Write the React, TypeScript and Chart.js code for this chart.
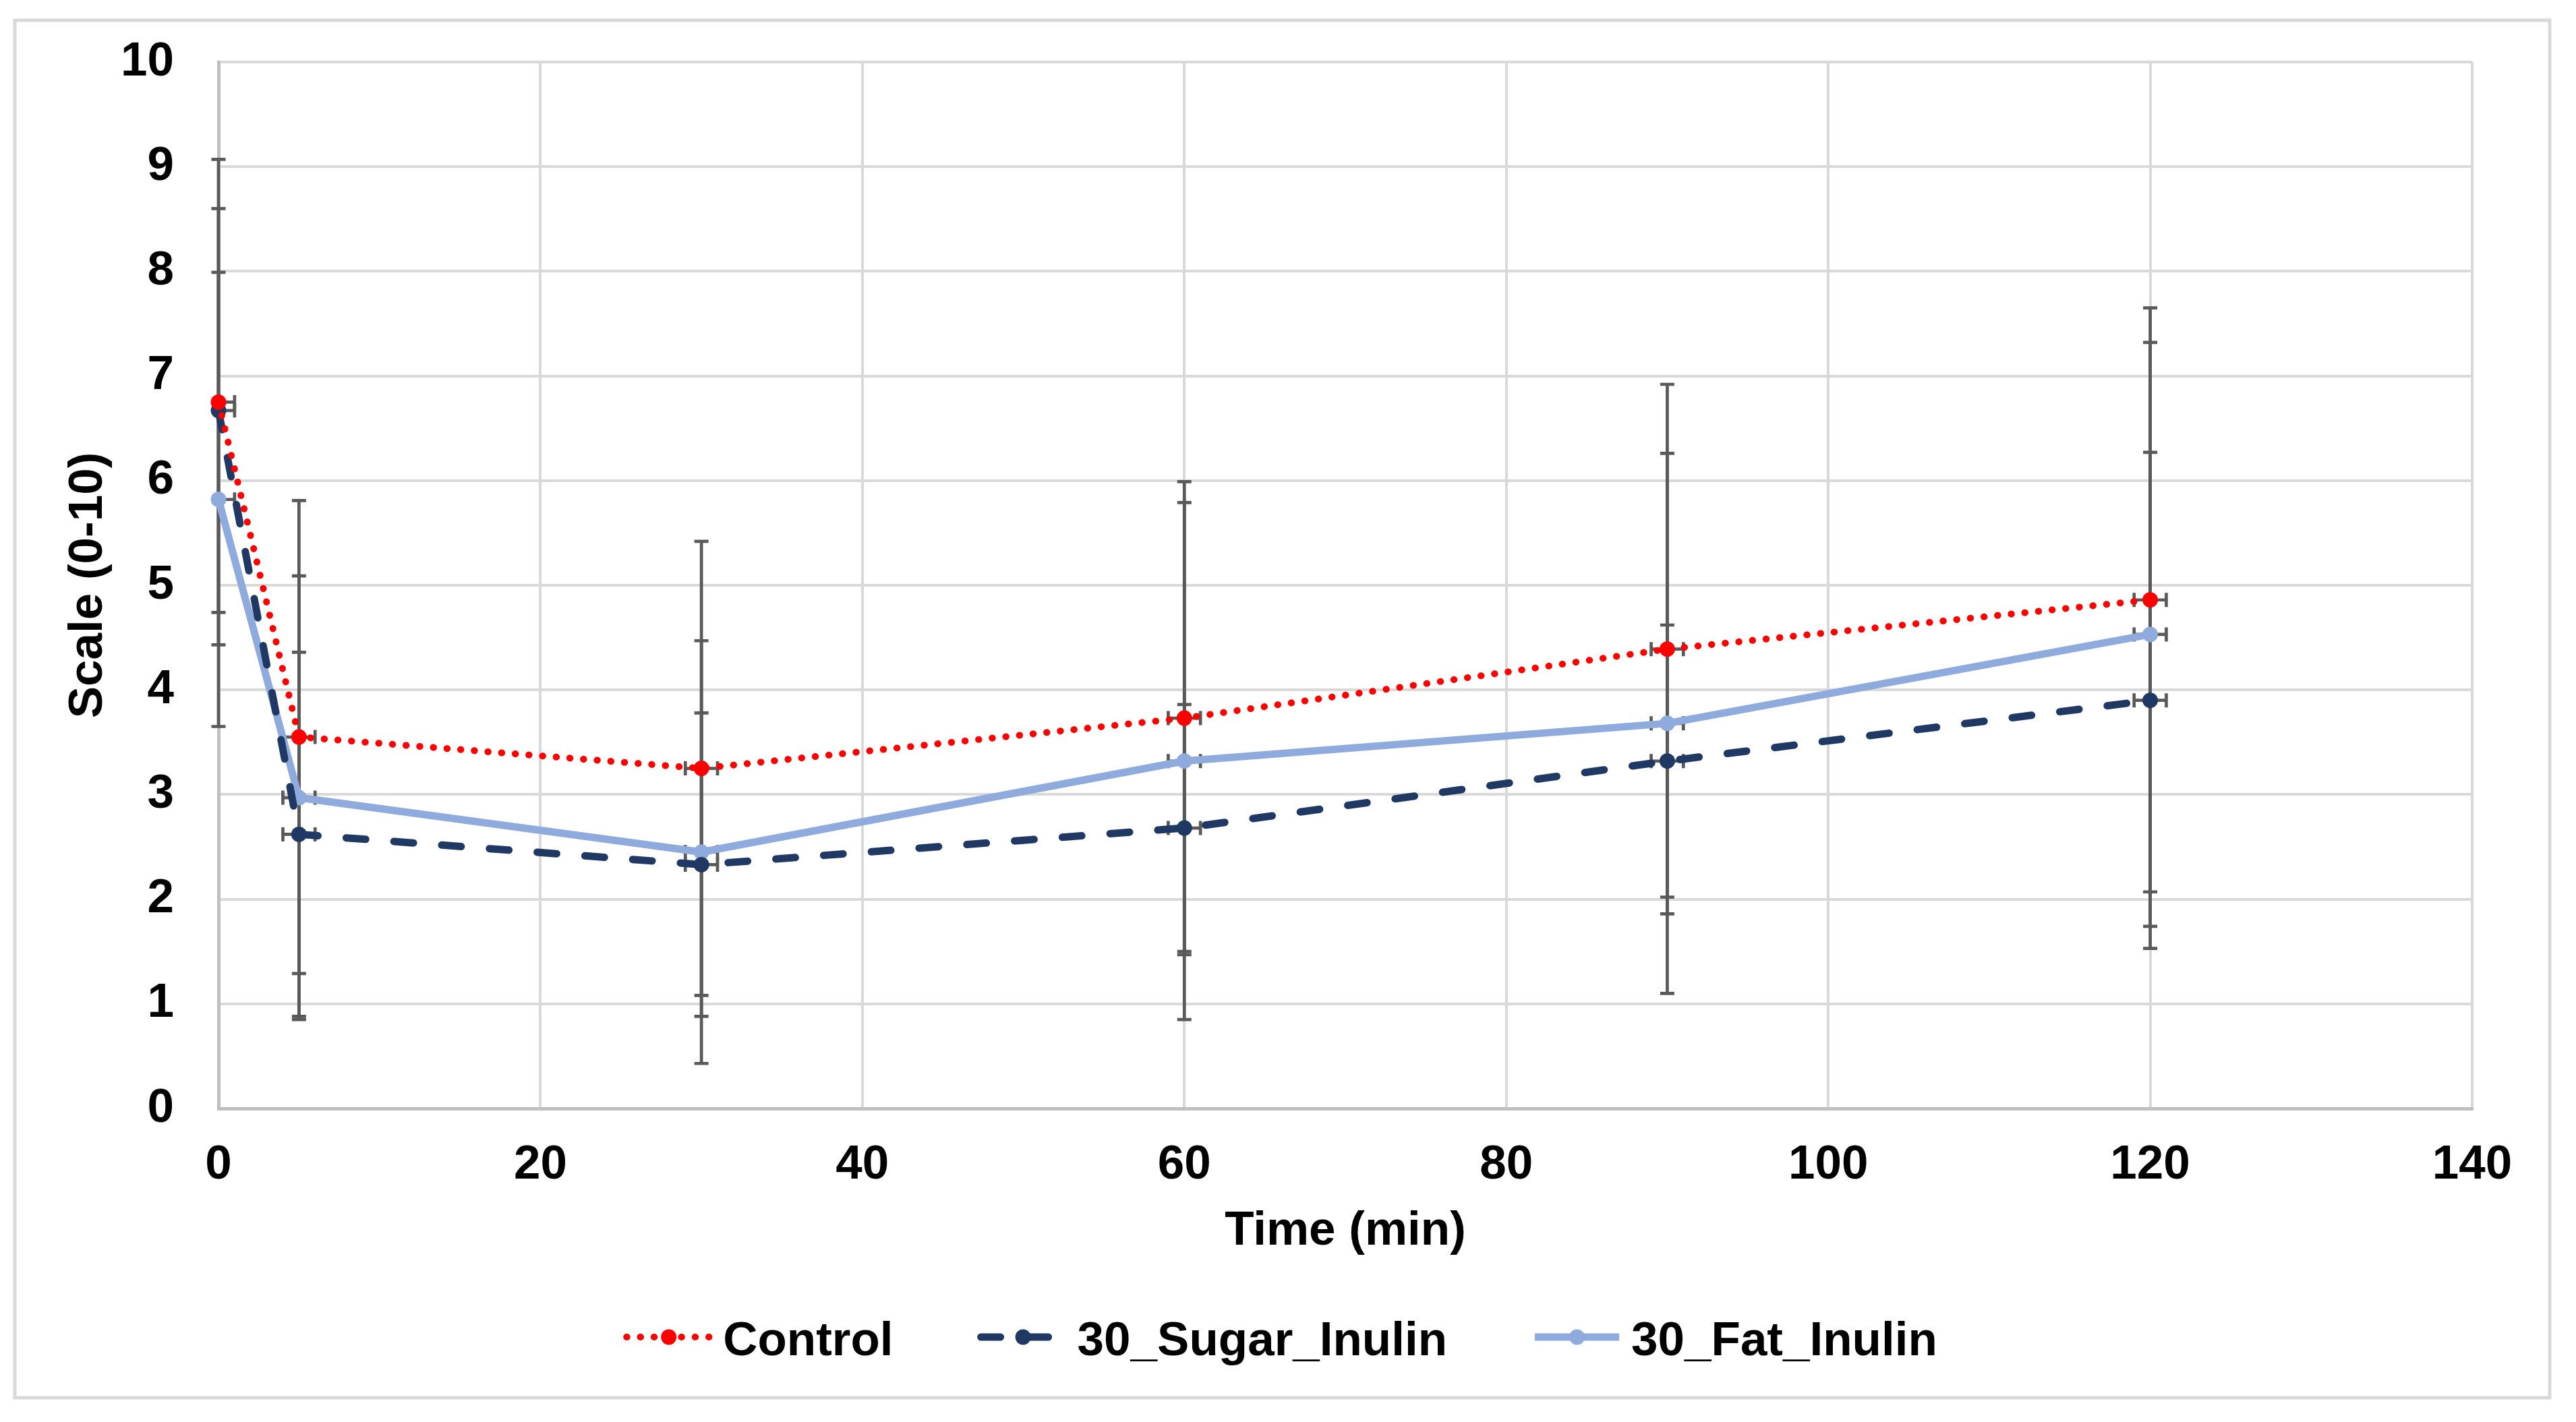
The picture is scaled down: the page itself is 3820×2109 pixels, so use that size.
import React, { useEffect, useRef } from "react";
import { Chart, registerables } from "chart.js";

Chart.register(...registerables);

// ---- data ----
const times = [0, 5, 30, 60, 90, 120];
const timeErr = [1, 1, 1, 1, 1, 1];

const controlMean = [6.75, 3.55, 3.25, 3.73, 4.39, 4.86];
const controlSD = [2.32, 2.26, 2.17, 2.26, 2.53, 2.79];

const sugarMean = [6.67, 2.62, 2.33, 2.68, 3.32, 3.9];
const sugarSD = [1.93, 1.74, 1.45, 1.18, 1.3, 2.37];

const fatMean = [5.82, 2.97, 2.45, 3.32, 3.68, 4.53];
const fatSD = [2.17, 2.12, 2.02, 2.47, 2.58, 2.79];

const seriesLabels = ["Control", "30_Sugar_Inulin", "30_Fat_Inulin"];
const xTitle = "Time (min)";
const yTitle = "Scale (0-10)";
const xMin = 0, xMax = 140, xStep = 20;
const yMin = 0, yMax = 10, yStep = 1;

// ---- styles ----
const FONT_FAMILY = "'Liberation Sans', Arial, sans-serif";
const FONT_SIZE = 71;
const RED = "#FF0000";
const NAVY = "#1F3864";
const LIGHT = "#8FAADC";
const ERR = "#595959";

const styles = [
  { color: RED, width: 10, dash: [0.5, 19.8] },
  { color: NAVY, width: 11, dash: [29, 42] },
  { color: LIGHT, width: 11, dash: [] as number[] },
];

const seriesData = [
  { mean: controlMean, sd: controlSD },
  { mean: sugarMean, sd: sugarSD },
  { mean: fatMean, sd: fatSD },
];

const W = 3820;
const H = 2109;

const backgroundPlugin = {
  id: "bgBorder",
  beforeDraw(chart: any) {
    const { ctx } = chart;
    ctx.save();
    ctx.fillStyle = "#FFFFFF";
    ctx.fillRect(0, 0, chart.width, chart.height);
    ctx.strokeStyle = "#D9D9D9";
    ctx.lineWidth = 5;
    ctx.strokeRect(22, 30, 3781 - 22, 2073 - 30);
    ctx.restore();
  },
};

const errorBarPlugin = {
  id: "errorBars",
  beforeDatasetsDraw(chart: any) {
    const { ctx } = chart;
    const x = chart.scales.x;
    const y = chart.scales.y;
    const cap = 10.5;
    ctx.save();
    ctx.strokeStyle = ERR;
    ctx.lineWidth = 4.7;
    ctx.lineCap = "butt";
    seriesData.forEach((s) => {
      s.mean.forEach((m: number, i: number) => {
        const t = times[i];
        const px = x.getPixelForValue(t);
        const py = y.getPixelForValue(m);
        const top = y.getPixelForValue(m + s.sd[i]);
        const bot = y.getPixelForValue(Math.max(yMin, m - s.sd[i]));
        ctx.beginPath();
        ctx.moveTo(px, top);
        ctx.lineTo(px, bot);
        ctx.moveTo(px - cap, top);
        ctx.lineTo(px + cap, top);
        ctx.moveTo(px - cap, bot);
        ctx.lineTo(px + cap, bot);
        ctx.stroke();
        // horizontal (time) error bars
        const lo = t - timeErr[i];
        const hi = t + timeErr[i];
        const clamped = lo < xMin;
        const xl = x.getPixelForValue(Math.max(xMin, lo));
        const xr = x.getPixelForValue(hi);
        ctx.beginPath();
        ctx.moveTo(xl, py);
        ctx.lineTo(xr, py);
        ctx.moveTo(xr, py - cap);
        ctx.lineTo(xr, py + cap);
        if (!clamped) {
          ctx.moveTo(xl, py - cap);
          ctx.lineTo(xl, py + cap);
        }
        ctx.stroke();
      });
    });
    ctx.restore();
  },
};

const legendPlugin = {
  id: "customLegend",
  afterDraw(chart: any) {
    const { ctx } = chart;
    ctx.save();
    ctx.font = `bold ${FONT_SIZE}px ${FONT_FAMILY}`;
    const lineLen = 125;
    const gapText = 18;
    const gapItem = 130;
    const widths = seriesLabels.map((l) => ctx.measureText(l).width);
    const total =
      widths.reduce((a, b) => a + b, 0) +
      seriesLabels.length * (lineLen + gapText) +
      (seriesLabels.length - 1) * gapItem;
    let cx = 1901 - total / 2;
    const ly = 1983;
    const baseline = 2010;
    seriesLabels.forEach((label, i) => {
      const st = styles[i];
      ctx.strokeStyle = st.color;
      ctx.lineWidth = st.width;
      ctx.lineCap = st.dash.length ? "round" : "butt";
      ctx.setLineDash(st.dash);
      ctx.beginPath();
      ctx.moveTo(cx, ly);
      ctx.lineTo(cx + lineLen, ly);
      ctx.stroke();
      ctx.setLineDash([]);
      ctx.fillStyle = st.color;
      ctx.beginPath();
      ctx.arc(cx + lineLen / 2, ly, 11.5, 0, Math.PI * 2);
      ctx.fill();
      ctx.fillStyle = "#000000";
      ctx.textAlign = "left";
      ctx.textBaseline = "alphabetic";
      ctx.fillText(label, cx + lineLen + gapText, baseline);
      cx += lineLen + gapText + widths[i] + gapItem;
    });
    ctx.restore();
  },
};

export default function App() {
  const canvasRef = useRef<HTMLCanvasElement | null>(null);

  useEffect(() => {
    if (!canvasRef.current) return;
    const font = { family: FONT_FAMILY, size: FONT_SIZE, weight: "bold" as const };
    const datasets = seriesLabels.map((label, si) => ({
      label,
      data: times.map((t, i) => ({ x: t, y: seriesData[si].mean[i] })),
      borderColor: styles[si].color,
      backgroundColor: styles[si].color,
      borderWidth: styles[si].width,
      borderDash: styles[si].dash,
      borderCapStyle: styles[si].dash.length ? "round" : "butt",
      borderJoinStyle: "round",
      pointRadius: 11.5,
      pointBorderWidth: 0,
      pointBackgroundColor: styles[si].color,
      pointHoverRadius: 11.5,
      tension: 0,
      fill: false,
      clip: false,
    }));

    const chart = new Chart(canvasRef.current, {
      type: "line",
      data: { datasets: datasets as any },
      options: {
        animation: false,
        responsive: false,
        devicePixelRatio: 1,
        events: [],
        layout: { padding: { left: 0, top: 92, right: 154, bottom: 0 } },
        plugins: {
          legend: { display: false },
          tooltip: { enabled: false },
          title: { display: false },
        },
        scales: {
          x: {
            type: "linear",
            min: xMin,
            max: xMax,
            ticks: {
              stepSize: xStep,
              font,
              color: "#000000",
              padding: 42,
              maxRotation: 0,
              autoSkip: false,
            },
            grid: { color: "#D9D9D9", lineWidth: 4, drawTicks: false },
            border: { color: "#BFBFBF", width: 5 },
            title: {
              display: true,
              text: xTitle,
              font,
              color: "#000000",
              padding: { top: 0, bottom: 240 },
            },
            afterFit: (s: any) => {
              s.height = 465;
              s.paddingLeft = 0;
              s.paddingRight = 0;
            },
          },
          y: {
            type: "linear",
            min: yMin,
            max: yMax,
            ticks: {
              stepSize: yStep,
              font,
              color: "#000000",
              padding: 66,
            },
            grid: { color: "#D9D9D9", lineWidth: 4, drawTicks: false },
            border: { color: "#BFBFBF", width: 5 },
            title: {
              display: true,
              text: yTitle,
              font,
              color: "#000000",
              padding: { top: 89, bottom: 0 },
            },
            afterFit: (s: any) => {
              s.width = 324;
              s.paddingTop = 0;
              s.paddingBottom = 0;
            },
          },
        },
      } as any,
      plugins: [backgroundPlugin, errorBarPlugin, legendPlugin],
    });

    return () => {
      chart.destroy();
    };
  }, []);

  return (
    <div
      style={{
        position: "fixed",
        left: 0,
        top: 0,
        width: W,
        height: H,
        background: "#FFFFFF",
        overflow: "hidden",
      }}
    >
      <canvas
        ref={canvasRef}
        width={W}
        height={H}
        style={{ width: W, height: H, display: "block" }}
      />
    </div>
  );
}
